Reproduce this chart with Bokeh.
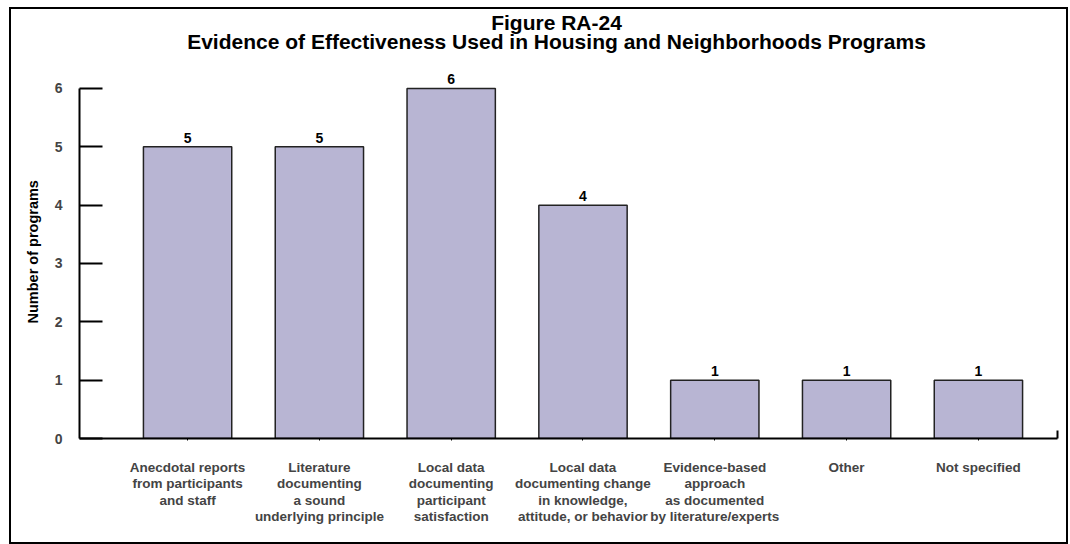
from bokeh.plotting import figure
from bokeh.models import (ColumnDataSource, Range1d, FixedTicker, LabelSet, Label,
                          Title, LinearAxis)
from bokeh.core.properties import value
from bokeh.embed import file_html
from bokeh.resources import INLINE

# ---- data ----
categories = [
    "Anecdotal reports\nfrom participants\nand staff",
    "Literature\ndocumenting\na sound\nunderlying principle",
    "Local data\ndocumenting\nparticipant\nsatisfaction",
    "Local data\ndocumenting change\nin knowledge,\nattitude, or behavior",
    "Evidence-based\napproach\nas documented\nby literature/experts",
    "Other",
    "Not specified",
]
values = [5, 5, 6, 4, 1, 1, 1]
y_ticks = [0, 1, 2, 3, 4, 5, 6]
title_line1 = "Figure RA-24"
title_line2 = "Evidence of Effectiveness Used in Housing and Neighborhoods Programs"
y_title = "Number of programs"

positions = list(range(1, len(categories) + 1))
source = ColumnDataSource(dict(x=positions, top=values,
                               lbl=[str(v) for v in values]))

FONT = "Liberation Sans"

p = figure(width=1059, height=537, output_backend="svg", toolbar_location=None,
           x_range=Range1d(0.18, 7.6), y_range=Range1d(0, 7.354),
           min_border_left=68, min_border_right=13, min_border_top=0,
           min_border_bottom=108)
p.styles = {"border": "2px solid black", "margin-left": "9px", "margin-top": "7px"}
p.outline_line_color = None
p.xgrid.visible = False
p.ygrid.visible = False
p.background_fill_color = "white"
p.border_fill_color = "white"

p.vbar(x="x", top="top", width=0.67, bottom=0, source=source,
       fill_color="#B8B5D3", line_color="#222222", line_width=1.5)

labels = LabelSet(x="x", y="top", text="lbl", source=source, y_offset=4,
                  text_align="center", text_baseline="bottom",
                  text_font=value(FONT), text_font_style="bold",
                  text_font_size="14px", text_color="black")
p.add_layout(labels)

# x axis
xa = p.xaxis[0]
xa.ticker = FixedTicker(ticks=positions)
xa.major_label_overrides = {pos: lab for pos, lab in zip(positions, categories)}
xa.major_label_text_font = FONT
xa.major_label_text_font_style = "bold"
xa.major_label_text_font_size = "13.5px"
xa.major_label_text_line_height = 1.1
xa.major_label_standoff = 19
xa.major_tick_in = 0
xa.major_tick_out = 2
xa.minor_tick_line_color = None
xa.axis_line_width = 2
xa.major_tick_line_width = 1
xa.axis_line_color = "black"

# y axis
ya = p.yaxis[0]
ya.ticker = FixedTicker(ticks=y_ticks)
ya.bounds = (0, 6)
ya.major_tick_in = 23
ya.major_tick_out = 0
ya.major_tick_line_width = 2
ya.axis_line_width = 2
ya.minor_tick_line_color = None
ya.major_label_text_font = FONT
ya.major_label_text_font_style = "bold"
ya.major_label_text_font_size = "14px"
ya.major_label_standoff = 17

# y-axis title, placed along the 0..6 span of the axis
p.add_layout(Title(text=y_title, align="left", offset=115, standoff=21,
                   text_font=FONT, text_font_style="bold",
                   text_font_size="14.5px", text_color="black"), "left")

# small end stub at the right end of the category axis
stub = LinearAxis(ticker=FixedTicker(ticks=[]), bounds=(0, 0.14),
                  axis_line_width=2, axis_line_color="black",
                  major_tick_line_color=None, minor_tick_line_color=None,
                  major_label_text_font_size="0px")
p.add_layout(stub, "right")

# two-line title (screen units relative to the plot frame)
for txt, yy in [(title_line1, 416), (title_line2, 397)]:
    p.add_layout(Label(x=477, y=yy, x_units="screen", y_units="screen", text=txt,
                       text_align="center", text_baseline="middle",
                       text_font=FONT, text_font_style="bold",
                       text_font_size="21px", text_color="black"))

open("out.html", "w").write(file_html(p, INLINE))
